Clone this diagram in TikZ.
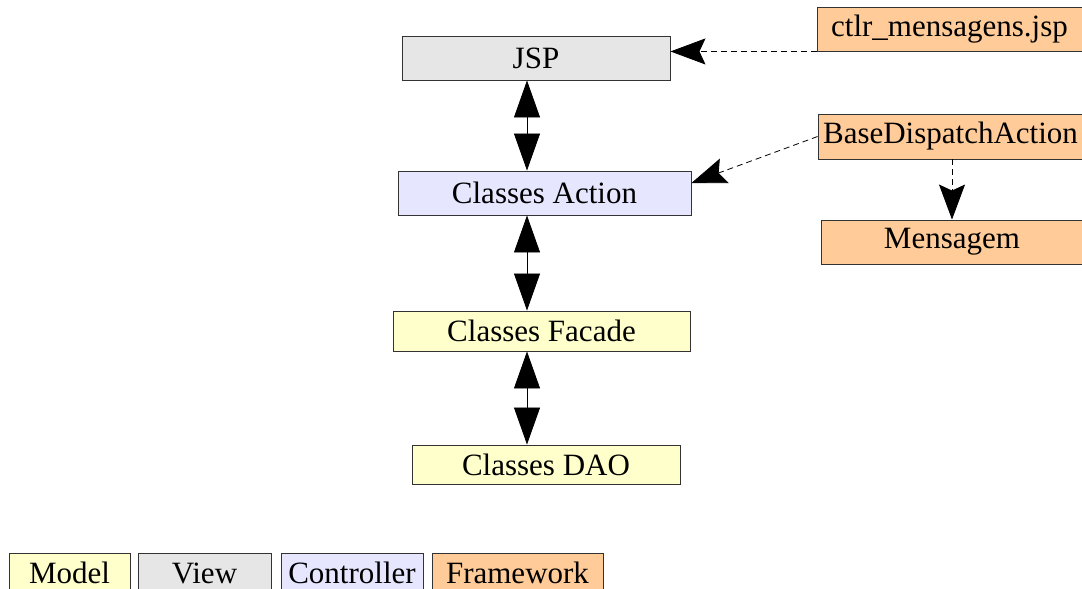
\documentclass[tikz,border=0pt]{standalone}
\usepackage{fontspec}
\setmainfont{Liberation Serif}
\usetikzlibrary{arrows.meta,calc}
\definecolor{viewc}{HTML}{E6E6E6}
\definecolor{ctrlc}{HTML}{E6E6FF}
\definecolor{modelc}{HTML}{FFFFCC}
\definecolor{fwc}{HTML}{FFCC99}
\definecolor{edgec}{HTML}{333333}
\tikzset{
  box/.style={draw=edgec, line width=0.9pt, inner sep=0pt, align=center,
    font=\fontsize{31}{35}\selectfont},
  viewbox/.style={box, fill=viewc},
  ctrlbox/.style={box, fill=ctrlc},
  modelbox/.style={box, fill=modelc},
  fwbox/.style={box, fill=fwc},
  legendbox/.style={minimum height=44pt, text height=21pt, text depth=5pt},
  biarrow/.style={line width=0.8pt, {Triangle[length=37pt,width=26pt]}-{Triangle[length=37pt,width=26pt]}},
  deparrow/.style={line width=0.8pt, dash pattern=on 6pt off 4pt,
    -{Stealth[length=35pt,width=26pt,inset=6pt]}},
}
\begin{document}
\begin{tikzpicture}[x=1pt,y=-1pt]
\clip (0,0) rectangle (1082,589);
\fill[white] (0,0) rectangle (1082,589);

% layered classes
\node[viewbox,  minimum width=268pt, minimum height=44pt] (jsp) at (536,58) {JSP};
\node[ctrlbox,  minimum width=293pt, minimum height=44pt] (act) at (544.5,193) {Classes Action};
\node[modelbox, minimum width=297pt, minimum height=40pt] (fac) at (541.5,331) {Classes Facade};
\node[modelbox, minimum width=268pt, minimum height=39pt] (dao) at (546,464.5) {Classes DAO};

% framework classes
\node[fwbox, minimum width=265pt, minimum height=44pt] (ctlr) at (949.5,29) {ctlr\_mensagens.jsp};
\node[fwbox, minimum width=265pt, minimum height=45pt] (base) at (950.5,136.5) {BaseDispatchAction};
\node[fwbox, minimum width=262pt, minimum height=44pt] (msg) at (952,242) {Mensagem};

% legend
\node[modelbox, legendbox, minimum width=121pt] (lm) at (69.5,575) {Model};
\node[viewbox,  legendbox, minimum width=133pt] (lv) at (204.5,575) {View};
\node[ctrlbox,  legendbox, minimum width=142pt] (lc) at (352,575) {Controller};
\node[fwbox,    legendbox, minimum width=171pt] (lf) at (517.5,575) {Framework};

% call chain
\coordinate (axis) at (527,0);
\draw[biarrow] (jsp.south -| axis) -- (act.north -| axis);
\draw[biarrow] (act.south -| axis) -- (fac.north -| axis);
\draw[biarrow] (fac.south -| axis) -- (dao.north -| axis);

% framework dependencies
\draw[deparrow] (ctlr.south west) -- (jsp.east |- ctlr.south west);
\draw[deparrow] (base.west) -- ([yshift=10pt]act.east);
\draw[deparrow] (base.south -| msg.north) -- (msg.north);
\end{tikzpicture}
\end{document}
